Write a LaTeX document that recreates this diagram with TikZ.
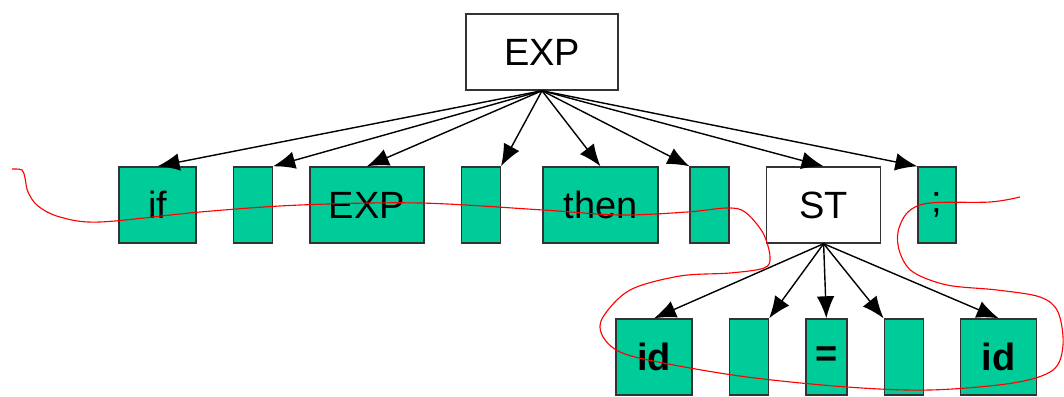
\documentclass[tikz,border=0pt]{standalone}
\usepackage{fontspec}
\setmainfont{Liberation Sans}
\usepackage{tikz}
\usetikzlibrary{arrows.meta, positioning}
\usepackage{xcolor}
\definecolor{leafgreen}{RGB}{0,204,153}

\begin{document}
\begin{tikzpicture}[
    x=0.025cm, y=-0.025cm,
    node distance=0.9cm,
    block/.style={rectangle, draw=black!80, line width=1pt, fill=white, minimum height=1.9cm, inner sep=0pt, font=\fontsize{27}{30}\selectfont},
    leaf/.style={block, fill=leafgreen},
    bold/.style={font=\fontsize{27}{30}\selectfont\bfseries},
    line/.style={draw, line width=1pt, -{Latex[length=5.5mm, width=4.4mm]}}
]
    \useasboundingbox (0,0) rectangle (1064,396);

    % Nodes
    \node (root) [block, minimum width=3.8cm] at (542,52) {EXP};

    \node (if) [leaf, minimum width=1.925cm] at (157.5,205) {if};
    \node (gapa) [leaf, minimum width=0.975cm, right=of if] {};
    \node (cond) [leaf, minimum width=2.85cm, right=of gapa] {EXP};
    \node (gapb) [leaf, minimum width=0.975cm, right=of cond] {};
    \node (then) [leaf, minimum width=2.875cm, right=1.03cm of gapb] {then};
    \node (gapc) [leaf, minimum width=0.975cm, right=0.77cm of then] {};
    \node (st) [block, minimum width=2.85cm, right=of gapc] {ST};
    \node (semi) [leaf, minimum width=0.95cm, right=of st] {;};

    \node (idl) [leaf, bold, minimum width=1.9cm] at (654,357) {id};
    \node (gapd) [leaf, minimum width=0.975cm, right=of idl] {};
    \node (eq) [leaf, bold, minimum width=1.025cm, right=of gapd] {=};
    \node (gape) [leaf, minimum width=0.975cm, right=of eq] {};
    \node (idr) [leaf, bold, minimum width=1.9cm, right=of gape] {id};

    % Paths
    \path [line] (root.south) -- (if.north);
    \path [line] (root.south) -- (gapa.north east);
    \path [line] (root.south) -- (cond.north);
    \path [line] (root.south) -- (gapb.north east);
    \path [line] (root.south) -- (then.north);
    \path [line] (root.south) -- (gapc.north west);
    \path [line] (root.south) -- (st.north);
    \path [line] (root.south) -- (semi.north west);

    \path [line] (st.south) -- (idl.north);
    \path [line] (st.south) -- (gapd.north east);
    \path [line] (st.south) -- (eq.north);
    \path [line] (st.south) -- (gape.north west);
    \path [line] (st.south) -- (idr.north);

    % frontier
    \draw [red, line width=0.8pt] plot [smooth, tension=0.55] coordinates {
        (12,169) (22,170) (25,178) (28,192) (38,206) (60,217) (100,222)
        (200,212) (300,205) (420,203) (543,210) (620,215) (687,212)
        (727,208) (745,212) (763,233) (770,257) (764,268) (730,273)
        (680,276) (630,290) (603,317) (602,335) (620,352) (663,363)
        (747,377) (847,387) (930,390) (1013,383) (1053,370) (1063,345)
        (1058,312) (1040,297) (997,290) (947,285) (913,272) (900,253)
        (898,232) (908,212) (930,203) (990,202) (1020,197)};
\end{tikzpicture}
\end{document}
